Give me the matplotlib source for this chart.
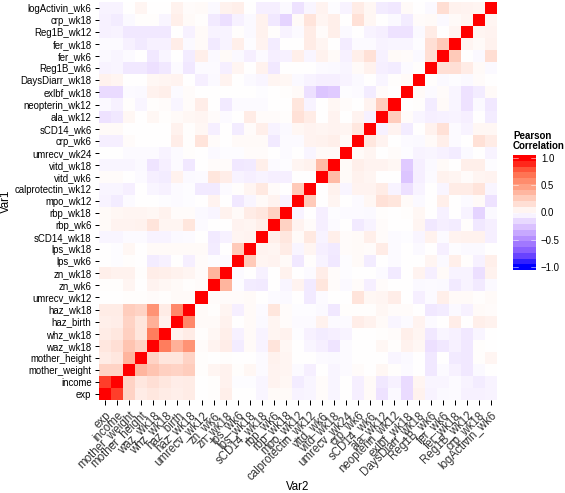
from matplotlib import pyplot as plt
from matplotlib.colors import LinearSegmentedColormap
import numpy as np

plt.rcParams['font.family'] = ['Liberation Sans', 'DejaVu Sans']

W, H = 565, 493

labels = ['exp', 'income', 'mother_weight', 'mother_height', 'waz_wk18', 'whz_wk18',
          'haz_birth', 'haz_wk18', 'umrecv_wk12', 'zn_wk6', 'zn_wk18', 'lps_wk6',
          'lps_wk18', 'sCD14_wk18', 'rbp_wk6', 'rbp_wk18', 'mpo_wk12', 'calprotectin_wk12',
          'vitd_wk6', 'vitd_wk18', 'umrecv_wk24', 'crp_wk6', 'sCD14_wk6', 'ala_wk12',
          'neopterin_wk12', 'exlbf_wk18', 'DaysDiarr_wk18', 'Reg1B_wk6', 'fer_wk6',
          'fer_wk18', 'Reg1B_wk12', 'crp_wk18', 'logActivin_wk6']

# lower triangle, one row per variable, diagonal is 1
lower_rows = [
    [],
    [.85],
    [.22, .22],
    [.10, .12, .38],
    [.12, .16, .30, .22],
    [.10, .12, .24, .13, .65],
    [.08, .09, .22, .13, .40, .07],
    [.10, .10, .25, .22, .55, .10, .60],
    [0, 0, .01, .01, .02, .01, .03, .03],
    [.01, .01, .05, 0, .06, .04, .03, .01, .02],
    [.08, .07, .07, .01, .09, .08, .07, .05, .02, .38],
    [0, -.01, .01, 0, -.08, -.06, 0, -.07, .02, -.01, -.02],
    [0, -.01, .04, 0, .03, .03, .03, .03, .03, -.08, 0, .27],
    [-.04, -.04, -.02, -.02, -.05, -.05, -.03, -.02, 0, -.09, -.06, .05, .06],
    [.03, .06, .06, .07, .14, .05, .05, .13, -.02, 0, 0, .06, .05, .08],
    [.03, .04, .05, .05, .04, .07, .02, .02, -.03, -.04, .07, .03, .10, .12, .23],
    [-.05, -.08, -.02, 0, 0, -.01, -.02, -.01, 0, .06, 0, -.10, -.04, .03, .06, -.05],
    [-.04, -.04, -.07, 0, -.04, -.06, -.02, -.01, -.09, -.09, -.02, .01, .05, .11, .02, 0, .27],
    [.02, .02, 0, -.02, -.07, -.08, .07, -.03, -.02, .13, .09, -.05, -.07, -.05, -.07, -.07, 0, 0],
    [-.04, -.04, -.04, -.03, -.11, -.07, -.02, -.10, 0, .02, .02, -.10, -.09, .08, -.02, -.01, .05, .07, .35],
    [0, 0, -.02, -.02, -.02, -.05, -.02, .01, 0, -.03, -.01, -.01, .02, .02, 0, -.02, 0, -.04, .03, .03],
    [-.07, -.07, .02, 0, 0, 0, .09, .01, .14, .02, 0, .03, .03, .03, -.09, -.02, -.02, .06, .07, .08, .03],
    [.03, .03, 0, 0, 0, 0, .07, .01, .04, -.07, 0, -.08, .02, .08, -.05, -.03, .04, .06, .05, .06, .05, .12],
    [-.12, -.10, .04, 0, .04, .01, .03, .04, .05, .02, -.02, 0, .10, .02, .02, .01, .15, .10, 0, .06, 0, .06, -.06],
    [-.03, -.06, .01, -.04, .01, .02, -.04, .02, .09, 0, -.09, -.02, -.02, -.02, 0, 0, .13, -.05, 0, .04, .02, 0, .06, .25],
    [-.15, -.15, -.02, -.03, .07, .08, -.02, .02, 0, 0, 0, 0, 0, -.01, 0, .01, .03, -.13, -.25, -.22, -.01, -.02, -.08, .02, 0],
    [.07, .05, 0, 0, .04, .05, .06, 0, -.07, -.03, .06, 0, -.03, -.04, .05, .04, -.03, -.05, -.07, -.07, -.05, -.03, 0, -.04, .01, .03],
    [-.05, -.04, -.10, -.10, -.13, -.10, -.02, -.10, -.02, -.02, -.07, .05, 0, .07, -.10, 0, 0, 0, -.02, -.03, -.04, .03, .07, -.07, -.08, -.02, .01],
    [-.03, -.04, -.02, 0, -.10, -.04, 0, -.08, .08, -.03, .03, -.03, -.07, -.02, -.07, -.06, .08, -.04, .07, .03, -.06, .08, .15, -.06, .03, .02, -.03, .16],
    [-.02, -.02, -.06, -.09, -.06, -.06, .09, -.03, .03, -.09, -.05, .08, -.01, .06, -.08, 0, 0, .10, .05, 0, -.08, -.02, -.02, -.05, -.04, -.04, -.01, .16, .27],
    [-.06, -.05, -.10, -.10, -.10, -.10, 0, -.06, .03, -.05, -.05, .01, -.03, .07, .01, -.05, -.02, .10, .02, .08, -.03, 0, -.05, -.07, -.12, -.12, -.03, .10, 0, .05],
    [-.06, -.08, -.03, .01, .01, -.04, .08, .03, .01, -.09, -.14, -.06, -.03, .07, -.10, -.18, .03, .14, .05, .08, 0, .15, .04, 0, -.03, -.08, .02, .03, -.03, .03, .05],
    [-.05, -.05, 0, .05, 0, 0, .07, .02, .03, -.03, .07, .08, 0, -.07, -.07, -.03, -.12, -.04, .06, -.01, -.05, .10, .04, -.08, -.10, .03, 0, -.03, .17, .07, .06, .05],
]

colorbar_ticks = [-1.0, -0.5, 0.0, 0.5, 1.0]

n = len(labels)
corr = np.eye(n)
for i, row in enumerate(lower_rows):
    for j, v in enumerate(row):
        corr[i, j] = v
        corr[j, i] = v

# same ramp as a Lab blue-white-red gradient
cmap = LinearSegmentedColormap.from_list('pearson', [
    (0.0, '#0000FF'), (0.125, '#7F52FF'), (0.25, '#B28BFF'), (0.375, '#DCC4FF'),
    (0.5, '#FFFFFF'), (0.625, '#FFCEBE'), (0.75, '#FF9E81'), (0.875, '#FF6847'),
    (1.0, '#FF0000')])


def axes_px(x0, y0, x1, y1):
    return [x0 / W, 1 - y1 / H, (x1 - x0) / W, (y1 - y0) / H]


fig = plt.figure(figsize=(W / 72, H / 72), dpi=72)
ax = fig.add_axes(axes_px(99, 2, 497, 400))
ax.pcolormesh(np.arange(n + 1) - 0.5, np.arange(n + 1) - 0.5, corr, cmap=cmap, vmin=-1, vmax=1)
ax.set_xlim(-0.5, n - 0.5)
ax.set_ylim(-0.5, n - 0.5)
for s in ax.spines.values():
    s.set_visible(False)

ax.set_xticks(range(n))
ax.set_yticks(range(n))
ax.set_yticklabels(labels, fontsize=9.6, color='black')
ax.set_xticklabels(labels, fontsize=11.5, color='#333333', rotation=45, ha='right',
                   va='top', rotation_mode='anchor')
ax.tick_params(length=4.5, width=1, pad=3)
ax.tick_params(axis='x', pad=5)

fig.text(298 / W, 1 - 487 / H, 'Var2', fontsize=11.5, ha='center', va='center')
fig.text(6 / W, 1 - 201 / H, 'Var1', fontsize=11.5, rotation=90, ha='center', va='center')

# colourbar in 20 steps, reaching slightly past +-1 like the original
cax = fig.add_axes(axes_px(513, 155, 536, 270))
bar_edges = np.linspace(-1.06, 1.06, 21)
bar_mid = (bar_edges[:-1] + bar_edges[1:]) / 2
cax.pcolormesh([0, 1], bar_edges, bar_mid[:, None], cmap=cmap, vmin=-1, vmax=1)
cax.set_xticks([])
cax.set_xlim(0, 1)
cax.set_ylim(-1.06, 1.06)
cax.yaxis.tick_right()
cax.set_yticks(colorbar_ticks)
cax.set_yticklabels(['\u22121.0', '\u22120.5', '0.0', '0.5', '1.0'], fontsize=9.6)
cax.tick_params(length=0, pad=5)
for s in cax.spines.values():
    s.set_visible(False)
for t in colorbar_ticks:
    cax.plot([0, 0.2], [t, t], color='white', lw=0.5)
    cax.plot([0.8, 1], [t, t], color='white', lw=0.5)

fig.text(513 / W, 1 - 141 / H, 'Pearson\nCorrelation', fontsize=9.8, fontweight='bold',
         ha='left', va='center', linespacing=1.05)

fig.savefig('out.png', dpi=72)
